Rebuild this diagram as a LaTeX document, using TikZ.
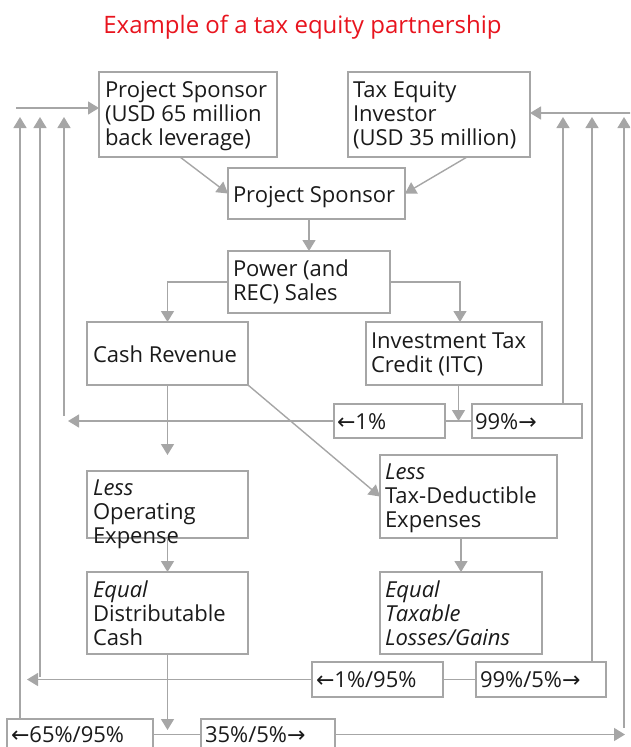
\documentclass[tikz,border=0pt]{standalone}
\usepackage{fontspec}
\setmainfont{Open Sans}
\newfontfamily\symf{DejaVu Sans}
\usetikzlibrary{arrows.meta,calc}
\definecolor{ln}{HTML}{A6A6A6}
\definecolor{tx}{HTML}{1A1A1A}
\definecolor{ttl}{HTML}{E8141E}
\newcommand{\lar}{{\symf ←}}
\newcommand{\rar}{{\symf →}}
\tikzset{
  box/.style={draw=ln, line width=1.6pt, inner sep=0pt, outer sep=0pt, shape=rectangle},
  txt/.style={inner sep=0pt, outer sep=0pt, text=tx, font=\fontsize{22}{24}\selectfont},
  arr/.style={draw=ln, line width=1.4pt, -{Triangle[length=11pt,width=13pt]}},
  ln/.style={draw=ln, line width=1.4pt},
  ttlstyle/.style={inner sep=0pt, text=ttl, font=\fontsize{24}{28}\selectfont}
}
\newcommand{\mybox}[5]{\node[box, minimum width={(#4-#2)*1pt}, minimum height={(#5-#3)*1pt}] (#1) at ({(#2+#4)/2},{(#3+#5)/2}) {};}
\newcommand{\mytext}[4]{\node[txt, anchor=base west] (#1) at (#2,#3) {\parbox[t]{230pt}{\raggedright #4}};}
\begin{document}
\begin{tikzpicture}[x=1pt,y=-1pt]
\useasboundingbox (0,0) rectangle (630,747);
\clip (0,0) rectangle (630,747);
\node[ttlstyle, anchor=base] (title) at (302.5,33) {Example of a tax equity partnership};
% boxes
\mybox{ps65}{99}{72}{277}{157}
\mytext{ps65t}{105}{97}{Project Sponsor\\(USD 65 million\\back leverage)}
\mybox{tei}{348}{72}{530}{157}
\mytext{teit}{353}{97}{Tax Equity\\Investor\\(USD 35 million)}
\mybox{ps}{228}{168}{405}{219}
\mytext{pst}{233}{202}{Project Sponsor}
\mybox{pow}{228}{251}{390}{313}
\mytext{powt}{233}{276}{Power (and\\REC) Sales}
\mybox{cash}{87}{322}{248}{385}
\mytext{casht}{93}{362}{Cash Revenue}
\mybox{itc}{366}{322}{542}{385}
\mytext{itct}{371}{348}{Investment Tax\\Credit (ITC)}
\mybox{p1}{334}{404}{445}{438}
\mytext{p1t}{337}{429}{\lar1\%}
\mybox{p99}{472}{404}{582}{438}
\mytext{p99t}{475}{429}{99\%\rar}
\mybox{lop}{87}{471}{248}{538}
\mytext{lopt}{93}{495}{\emph{Less}\\Operating\\Expense}
\mybox{ltd}{380}{455}{557}{538}
\mytext{ltdt}{385}{479}{\emph{Less}\\Tax-Deductible\\Expenses}
\mybox{edc}{87}{572}{248}{654}
\mytext{edct}{93}{597}{\emph{Equal}\\Distributable\\Cash}
\mybox{etl}{380}{572}{542}{654}
\mytext{etlt}{385}{597}{\emph{Equal}\\\emph{Taxable}\\\emph{Losses/Gains}}
\mybox{p195}{312}{662}{443}{697}
\mytext{p195t}{316}{687}{\lar1\%/95\%}
\mybox{p995}{476}{662}{606}{697}
\mytext{p995t}{480}{687}{99\%/5\%\rar}
\mybox{p6595}{7}{719}{153}{750}
\mytext{p6595t}{11}{742}{\lar65\%/95\%}
\mybox{p355}{201}{719}{335}{750}
\mytext{p355t}{205}{742}{35\%/5\%\rar}
% coordinates
\coordinate (L1t) at (20,117);
\coordinate (L2t) at (40,117);
\coordinate (L3t) at (64,117);
\coordinate (L2b) at (40,677);
\coordinate (L3b) at (64,416);
\coordinate (TL) at (16,108);
\coordinate (R1t) at (563,117);
\coordinate (R2t) at (592,117);
\coordinate (R3t) at (624,117);
\coordinate (R3b) at (624,728);
\coordinate (TR) at (631,113);
\coordinate (A1) at (68,0);
\coordinate (A2) at (27,0);
\coordinate (A3) at (625,0);
\coordinate (B1) at (0,730);
\coordinate (B2) at (0,455);
\coordinate (C1) at (460,0);
\coordinate (m1) at ($(p1.east)!0.5!(p99.west)$);
% connectors
\draw[arr] ($(ps65.south west)!0.455!(ps65.south east)$) -- (ps.west);
\draw[arr] ($(tei.south west)!0.654!(tei.south east)$) -- (ps.east);
\draw[arr] (pow.north |- ps.south) -- (pow.north);
\draw[arr] (pow.west) -| (cash.north);
\draw[arr] (pow.east) -| (C1 |- itc.north);
\draw[arr] (cash.south) -- (cash.south |- B2);
\draw[arr] (cash.south east) -- (ltd.west);
\draw[arr] (lop.south) -- (edc.north);
\draw[arr] (etl.north |- ltd.south) -- (etl.north);
\draw[ln] (p1.east) -- (p99.west);
\draw[arr] (m1 |- itc.south) -- (m1);
\draw[arr] (p1.west) -- (A1 |- p1.west);
\draw[arr] (R1t |- p99.north) -- (R1t);
\draw[ln] (p195.east) -- (p995.west);
\draw[arr] (p195.west) -- (A2 |- p195.west);
\draw[arr] (R2t |- p995.north) -- (R2t);
\draw[arr] (edc.south) -- (edc.south |- B1);
\draw[ln] (p6595.east) -- (p355.west);
\draw[arr] (p355.east) -- (A3 |- p355.east);
\draw[arr] (R3b) -- (R3t);
\draw[arr] (L1t |- p6595.north) -- (L1t);
\draw[arr] (L2b) -- (L2t);
\draw[arr] (L3b) -- (L3t);
\draw[arr] (TL) -- (TL -| ps65.west);
\draw[arr] (TR) -- (TR -| tei.east);
\end{tikzpicture}
\end{document}
